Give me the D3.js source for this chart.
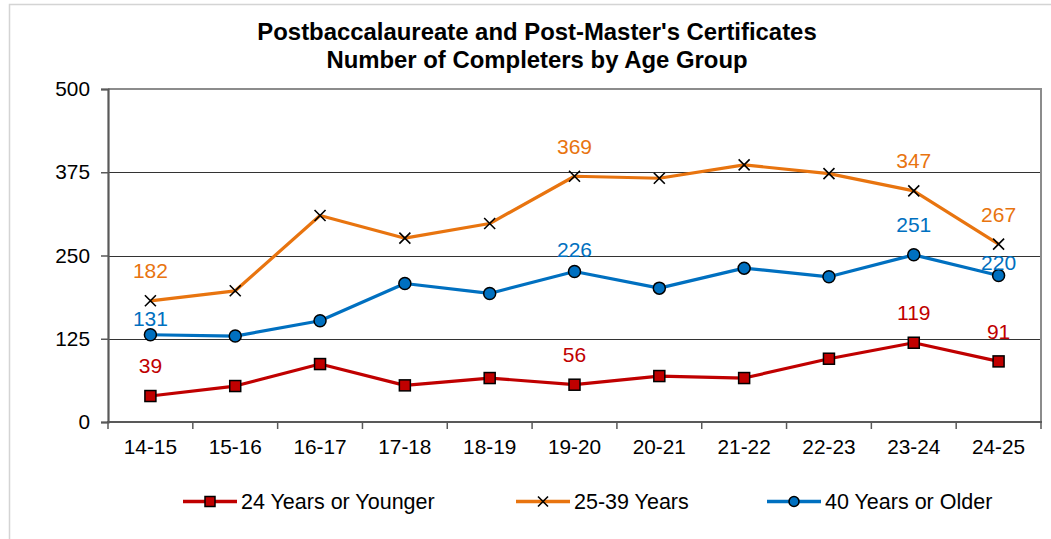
<!DOCTYPE html>
<html>
<head>
<meta charset="utf-8">
<script src="https://cdn.jsdelivr.net/npm/d3@7"></script>
<style>
  html, body { margin: 0; padding: 0; background: #fff; }
  svg { display: block; font-family: "Liberation Sans", Arial, sans-serif; }
</style>
</head>
<body>
<svg id="chart" width="1051" height="539"></svg>
<script>
// Academic years on the x axis
const years = ["14-15", "15-16", "16-17", "17-18", "18-19", "19-20", "20-21", "21-22", "22-23", "23-24", "24-25"];

// Completers per age group
const younger24 = [39, 54, 87, 55, 66, 56, 69, 66, 95, 119, 91];
const age25to39 = [182, 197, 310, 276, 298, 369, 366, 386, 373, 347, 267];
const older40   = [131, 129, 152, 208, 193, 226, 201, 231, 218, 251, 220];

// Y axis ticks
const yTicks = [0, 125, 250, 375, 500];

// Points that carry a value label
const labeledIdx = [0, 5, 9, 10];

const seriesNames = ["24 Years or Younger", "25-39 Years", "40 Years or Older"];

const series = [
  { name: seriesNames[0], values: younger24, color: "#C00000", marker: "square" },
  { name: seriesNames[1], values: age25to39, color: "#E8740F", marker: "cross" },
  { name: seriesNames[2], values: older40,   color: "#0070C0", marker: "circle" }
];

const svg = d3.select("#chart");
const W = 1051, H = 539;
const plot = { left: 108, right: 1041, top: 89, bottom: 422 };

// outer chart frame
svg.append("path")
  .attr("d", `M9.5,${H} V4.5 H${W}`)
  .attr("fill", "none").attr("stroke", "#d4d4d4").attr("stroke-width", 1.5);

// title
const title = svg.append("text")
  .attr("text-anchor", "middle")
  .attr("font-weight", "bold")
  .attr("font-size", "23.9px")
  .attr("fill", "#000");
title.append("tspan").attr("x", 537).attr("y", 39.5).text("Postbaccalaureate and Post-Master's Certificates");
title.append("tspan").attr("x", 537).attr("y", 67.5).text("Number of Completers by Age Group");

const x = d3.scaleBand().domain(years).range([plot.left, plot.right]).paddingInner(0).paddingOuter(0);
const y = d3.scaleLinear().domain([0, 500]).range([plot.bottom, plot.top]);
const cx = d => x(d) + x.bandwidth() / 2;

// horizontal gridlines
svg.append("g").selectAll("line")
  .data(yTicks.filter(t => t > 0 && t < 500))
  .join("line")
  .attr("x1", plot.left).attr("x2", plot.right)
  .attr("y1", d => Math.round(y(d)) + 0.5).attr("y2", d => Math.round(y(d)) + 0.5)
  .attr("stroke", "#333").attr("stroke-width", 1);

// plot frame: top and right edges
svg.append("path")
  .attr("d", `M${plot.left},${plot.top} H${plot.right} V${plot.bottom}`)
  .attr("fill", "none").attr("stroke", "#8c8c8c").attr("stroke-width", 2);

// y axis
const yAxis = d3.axisLeft(y).tickValues(yTicks).tickSize(7).tickPadding(11);
const gy = svg.append("g").attr("transform", `translate(${plot.left},0)`).call(yAxis);
gy.select(".domain").attr("stroke", "#595959").attr("stroke-width", 2.2);
gy.selectAll(".tick line").attr("stroke", "#595959").attr("stroke-width", 1.5);
gy.selectAll(".tick text")
  .attr("font-size", "20.8px").attr("fill", "#000")
  .attr("font-family", "Liberation Sans, Arial, sans-serif");

// x axis: ticks sit on category boundaries
const gx = svg.append("g").attr("transform", `translate(0,${plot.bottom})`);
gx.append("line")
  .attr("x1", plot.left - 1).attr("x2", plot.right + 1)
  .attr("y1", 0).attr("y2", 0)
  .attr("stroke", "#595959").attr("stroke-width", 2.2);
const boundaries = years.map(d => x(d)).concat([plot.right]);
gx.selectAll("line.tick").data(boundaries).join("line")
  .attr("class", "tick")
  .attr("x1", d => d).attr("x2", d => d)
  .attr("y1", 0).attr("y2", 7)
  .attr("stroke", "#595959").attr("stroke-width", 1.5);
gx.selectAll("text").data(years).join("text")
  .attr("x", d => cx(d)).attr("y", 32)
  .attr("text-anchor", "middle")
  .attr("font-size", "20.8px").attr("fill", "#000")
  .text(d => d);

// marker drawing
function drawMarker(g, kind, color, size) {
  if (kind === "square") {
    g.append("rect")
      .attr("x", -size / 2).attr("y", -size / 2)
      .attr("width", size).attr("height", size)
      .attr("fill", color).attr("stroke", "#000").attr("stroke-width", 1.5);
  } else if (kind === "circle") {
    g.append("circle").attr("r", size / 2)
      .attr("fill", color).attr("stroke", "#000").attr("stroke-width", 1.5);
  } else {
    const h = size / 2;
    g.append("path")
      .attr("d", `M${-h},${-h}L${h},${h}M${-h},${h}L${h},${-h}`)
      .attr("stroke", "#000").attr("stroke-width", 1.6).attr("fill", "none");
  }
}

const line = d3.line().x((d, i) => cx(years[i])).y(d => y(d));

// how far each value label sits above its point
const labelLift = {
  default: 30,
  "40 Years or Older": { 0: 16.5, 5: 21.5, 9: 30, 10: 13 }
};

const markerSize = { square: 11, circle: 12, cross: 11 };

series.forEach(s => {
  const g = svg.append("g");
  g.append("path")
    .datum(s.values)
    .attr("d", line)
    .attr("fill", "none")
    .attr("stroke", s.color)
    .attr("stroke-width", 3.2)
    .attr("stroke-linejoin", "round");

  s.values.forEach((v, i) => {
    const m = g.append("g").attr("transform", `translate(${cx(years[i])},${y(v)})`);
    drawMarker(m, s.marker, s.color, markerSize[s.marker]);
  });

  labeledIdx.forEach(i => {
    const over = labelLift[s.name];
    const lift = over && over[i] !== undefined ? over[i] : labelLift.default;
    g.append("text")
      .attr("x", cx(years[i]))
      .attr("y", y(s.values[i]) - lift)
      .attr("dy", "0.35em")
      .attr("text-anchor", "middle")
      .attr("font-size", "21px")
      .attr("fill", s.color)
      .text(s.values[i]);
  });
});

// legend
const legendItems = [
  { s: series[0], x0: 183 },
  { s: series[1], x0: 516 },
  { s: series[2], x0: 767 }
];
const ly = 501.5;
legendItems.forEach(({ s, x0 }) => {
  const g = svg.append("g");
  g.append("line")
    .attr("x1", x0).attr("x2", x0 + 54)
    .attr("y1", ly).attr("y2", ly)
    .attr("stroke", s.color).attr("stroke-width", 3.5);
  const m = g.append("g").attr("transform", `translate(${x0 + 27},${ly})`);
  drawMarker(m, s.marker, s.color, 10);
  g.append("text")
    .attr("x", x0 + 58).attr("y", ly).attr("dy", "0.35em")
    .attr("font-size", "21.5px").attr("fill", "#000")
    .text(s.name);
});
</script>
</body>
</html>
